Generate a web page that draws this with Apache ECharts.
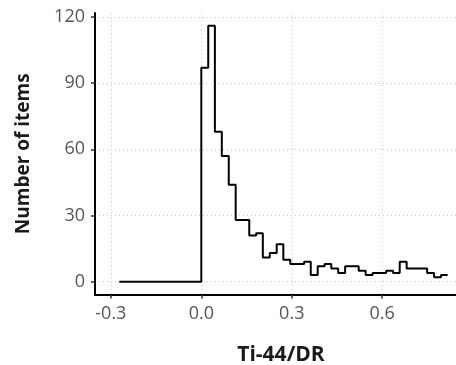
<!DOCTYPE html>
<html>
<head>
<meta charset="utf-8">
<script src="https://cdn.jsdelivr.net/npm/echarts@6/dist/echarts.min.js"></script>
<style>
html,body{margin:0;padding:0;background:#fff;}
#chart{width:456px;height:365px;}
</style>
</head>
<body>
<div id="chart"></div>
<script>
// Step positions (left edge of each step) and counts
const xEdges = [-0.272, 0.000, 0.023, 0.045, 0.068, 0.091, 0.114, 0.136, 0.159, 0.182, 0.204,
  0.227, 0.250, 0.272, 0.295, 0.318, 0.341, 0.363, 0.386, 0.409, 0.431,
  0.454, 0.477, 0.499, 0.522, 0.545, 0.568, 0.590, 0.613, 0.636, 0.658,
  0.681, 0.704, 0.726, 0.749, 0.772, 0.795, 0.817];
const counts = [0, 97, 116, 68, 57, 44, 28, 28, 21, 22, 11,
  13, 17, 10, 8, 8, 9, 3, 7, 8, 6,
  4, 7, 7, 5, 3, 4, 4, 5, 4, 9,
  6, 6, 6, 4, 2, 3, 3];
const xTicks = [-0.3, 0.0, 0.3, 0.6];
const yTicks = [0, 30, 60, 90, 120];
const xTitle = 'Ti-44/DR';
const yTitle = 'Number of items';

const data = xEdges.map((x, i) => [x, counts[i]]);
const chart = echarts.init(document.getElementById('chart'), null, {renderer: 'canvas'});
const font = 'Open Sans';
const grid = {type: [1, 3], color: '#c8c8c8', width: 1};
chart.setOption({
  animation: false,
  backgroundColor: '#fff',
  grid: {left: 95, right: 0, top: 13, bottom: 70.5, containLabel: false, outerBoundsMode: 'none'},
  xAxis: {
    type: 'value', min: -0.3526, max: 0.8447,
    name: xTitle, nameLocation: 'middle', nameGap: 50,
    nameTextStyle: {fontFamily: font, fontWeight: 'bold', fontSize: 21, color: '#1a1a1a', padding: [0, 0, 0, 11]},
    axisLine: {show: true, onZero: false, lineStyle: {color: '#000', width: 2}},
    axisTick: {show: true, length: 4, customValues: xTicks, lineStyle: {color: '#333', width: 1.5}},
    axisLabel: {customValues: xTicks, formatter: v => v.toFixed(1), fontFamily: font, fontSize: 18, color: '#555', margin: 10},
    splitLine: {show: true, lineStyle: grid}
  },
  yAxis: {
    type: 'value', min: -5.8, max: 121.8,
    name: yTitle, nameLocation: 'middle', nameGap: 62,
    nameTextStyle: {fontFamily: font, fontWeight: 'bold', fontSize: 19, color: '#1a1a1a'},
    axisLine: {show: true, onZero: false, lineStyle: {color: '#000', width: 2}},
    axisTick: {show: true, length: 4, customValues: yTicks, lineStyle: {color: '#333', width: 1.5}},
    axisLabel: {customValues: yTicks, fontFamily: font, fontSize: 18, color: '#555', margin: 10},
    splitLine: {show: true, lineStyle: grid}
  },
  series: [{
    type: 'line', step: 'end', data: data, showSymbol: false, symbol: 'none',
    lineStyle: {color: '#000', width: 2}, z: 5
  }]
});
</script>
</body>
</html>
